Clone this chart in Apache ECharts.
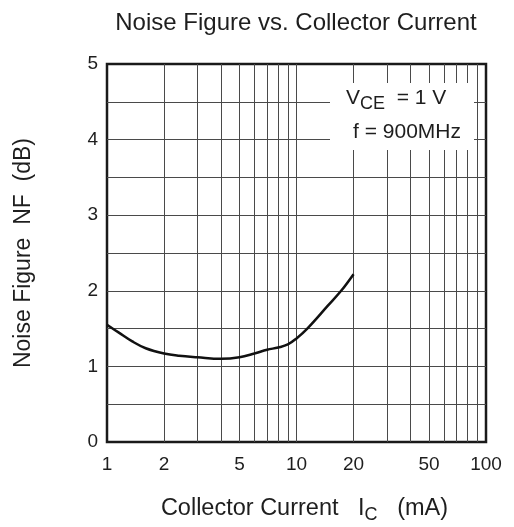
<!DOCTYPE html>
<html>
<head>
<meta charset="utf-8">
<script src="https://cdn.jsdelivr.net/npm/echarts@6/dist/echarts.min.js"></script>
<style>
html,body{margin:0;padding:0;background:#fff;}
#chart{width:514px;height:527px;}
</style>
</head>
<body>
<div id="chart"></div>
<script>
// Data
const currentMA = [1, 1.15, 1.36, 1.6, 2, 2.4, 3, 4, 5, 6, 7, 8, 9, 10, 11.4, 14.6, 17.2, 20];
const noiseFigureDB = [1.55, 1.45, 1.33, 1.24, 1.17, 1.14, 1.12, 1.10, 1.12, 1.17, 1.22, 1.25, 1.29, 1.37, 1.50, 1.80, 2.00, 2.22];
const xTickLabels = [1, 2, 5, 10, 20, 50, 100];
const xGridValues = [1, 2, 3, 4, 5, 6, 7, 8, 9, 10, 20, 30, 40, 50, 60, 70, 80, 90, 100];
const yTickLabels = [0, 1, 2, 3, 4, 5];

const FONT = "'Liberation Sans', Arial, Helvetica, sans-serif";
const TXT = '#1e1e1e';

const chart = echarts.init(document.getElementById('chart'));
chart.setOption({
  backgroundColor: '#fff',
  animation: false,
  title: {
    text: 'Noise Figure vs. Collector Current',
    left: 291, top: 6, textAlign: 'center',
    textStyle: { fontFamily: FONT, fontSize: 24, fontWeight: 'normal', color: TXT }
  },
  grid: {
    left: 107, right: 28, top: 64, bottom: 85,
    outerBoundsMode: 'none', containLabel: false,
    show: true, borderColor: '#1a1a1a', borderWidth: 2.5, backgroundColor: 'transparent'
  },
  xAxis: {
    type: 'log', logBase: 10, min: 1, max: 100,
    name: '{a|Collector Current   I}{s|C}{a|   (mA)}',
    nameLocation: 'middle', nameGap: 52,
    nameTextStyle: {
      padding: [0, 0, 0, 16],
      rich: {
        a: { fontFamily: FONT, fontSize: 23.5, color: TXT },
        s: { fontFamily: FONT, fontSize: 18, color: TXT, padding: [12, 0, 0, 0] }
      }
    },
    axisLine: { show: false },
    axisTick: { show: false, customValues: xGridValues },
    axisLabel: { customValues: xTickLabels, fontFamily: FONT, fontSize: 19, color: TXT, margin: 13 },
    splitLine: { show: true, showMinLine: false, showMaxLine: false, lineStyle: { color: '#4a4a4a', width: 1 } }
  },
  yAxis: {
    type: 'value', min: 0, max: 5, interval: 0.5,
    name: 'Noise Figure  NF  (dB)',
    nameLocation: 'middle', nameGap: 72,
    nameTextStyle: { fontFamily: FONT, fontSize: 23, color: TXT },
    axisLine: { show: false },
    axisTick: { show: false },
    axisLabel: { customValues: yTickLabels, fontFamily: FONT, fontSize: 19, color: TXT, margin: 9 },
    splitLine: { show: true, showMinLine: false, showMaxLine: false, lineStyle: { color: '#4a4a4a', width: 1 } }
  },
  graphic: [
    { type: 'rect', left: 330, top: 83, z: 100, shape: { width: 144, height: 67 }, style: { fill: '#fff' } },
    { type: 'text', left: 346, top: 88, z: 101, style: {
        text: '{a|V}{s|CE}{a|  = 1 V}',
        rich: {
          a: { fontFamily: FONT, fontSize: 21, fill: TXT },
          s: { fontFamily: FONT, fontSize: 18, fill: TXT, padding: [11, 0, 0, 0] }
        }
      } },
    { type: 'text', left: 353, top: 122, z: 101, style: { text: 'f = 900MHz', fontFamily: FONT, fontSize: 21, fill: TXT } }
  ],
  series: [{
    type: 'line',
    data: currentMA.map((x, i) => [x, noiseFigureDB[i]]),
    smooth: 0.4, showSymbol: false, symbol: 'none',
    lineStyle: { color: '#111', width: 2.5 },
    z: 5
  }]
});
</script>
</body>
</html>
